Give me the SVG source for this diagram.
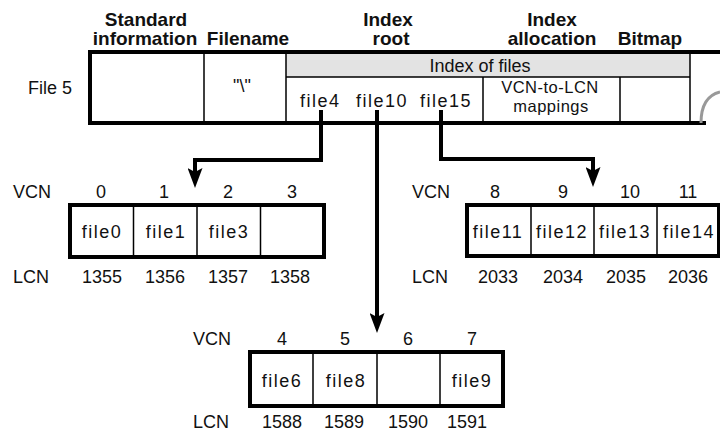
<svg xmlns="http://www.w3.org/2000/svg" width="720" height="433" viewBox="0 0 720 433">
<defs>
<style>
text{font-family:"Liberation Sans",Arial,Helvetica,sans-serif;font-size:18px;fill:#111}
.h{font-weight:bold;font-size:19px;text-anchor:middle}
.c{text-anchor:middle}
.f{letter-spacing:1.5px}
.m{font-size:16.5px;letter-spacing:0.5px}
.thick{fill:none;stroke:#000;stroke-width:4}
.thin{fill:none;stroke:#000;stroke-width:1.5}
.conn{fill:none;stroke:#000;stroke-width:4;stroke-linejoin:miter}
.band{fill:#e3e3e3}
</style>
<marker id="ah" viewBox="0 0 20 15" refX="4" refY="7.5" markerWidth="20" markerHeight="15" markerUnits="userSpaceOnUse" orient="auto">
<path d="M0,0 L20,7.5 L0,15 L4,7.5 z" fill="#000"/>
</marker>
</defs>
<rect width="720" height="433" fill="#fff"/>

<g id="file5-record">
<text class="h" x="146" y="26">Standard</text>
<text class="h" x="145" y="45">information</text>
<text class="h" x="248" y="45">Filename</text>
<text class="h" x="388" y="26">Index</text>
<text class="h" x="391" y="45">root</text>
<text class="h" x="552" y="26">Index</text>
<text class="h" x="552" y="45">allocation</text>
<text class="h" x="650" y="45">Bitmap</text>
<text class="c" x="50" y="94">File 5</text>
<rect class="band" x="286" y="52" width="404" height="25"/>
<path class="thin" d="M204,52V123M286,52V123M690,52V123M286,77H690M483,77V123M620,77V123"/>
<path class="thick" d="M720,52H90V123H706"/>
<path d="M701,123C701,105 708,95 720,92" fill="none" stroke="#999" stroke-width="3"/>
<text class="c" x="242" y="92">"\"</text>
<text class="c" x="480" y="72">Index of files</text>
<text class="f" x="300" y="107">file4</text>
<text class="f" x="356" y="107">file10</text>
<text class="f" x="420" y="107">file15</text>
<text class="c m" x="550" y="93">VCN-to-LCN</text>
<text class="c m" x="551" y="112">mappings</text>
</g>

<g id="run-vcn0-3">
<text x="13" y="198">VCN</text>
<text class="c" x="101" y="198">0</text>
<text class="c" x="164" y="198">1</text>
<text class="c" x="228" y="198">2</text>
<text class="c" x="292" y="198">3</text>
<rect class="thick" x="70" y="205" width="254" height="52"/>
<path class="thin" d="M133.5,205V257M197,205V257M260.5,205V257"/>
<text class="c f" x="102" y="238">file0</text>
<text class="c f" x="166" y="238">file1</text>
<text class="c f" x="229" y="238">file3</text>
<text x="13" y="283">LCN</text>
<text class="c" x="102" y="283">1355</text>
<text class="c" x="165" y="283">1356</text>
<text class="c" x="228" y="283">1357</text>
<text class="c" x="290" y="283">1358</text>
</g>

<g id="run-vcn8-11">
<text x="412" y="198">VCN</text>
<text class="c" x="495" y="198">8</text>
<text class="c" x="563" y="198">9</text>
<text class="c" x="630" y="198">10</text>
<text class="c" x="688" y="198">11</text>
<rect class="thick" x="467" y="205" width="252" height="51"/>
<path class="thin" d="M531,205V256M594,205V256M657,205V256"/>
<text class="c f" x="498" y="238">file11</text>
<text class="c f" x="562" y="238">file12</text>
<text class="c f" x="625" y="238">file13</text>
<text class="c f" x="689" y="238">file14</text>
<text x="412" y="283">LCN</text>
<text class="c" x="498" y="283">2033</text>
<text class="c" x="563" y="283">2034</text>
<text class="c" x="626" y="283">2035</text>
<text class="c" x="688" y="283">2036</text>
</g>

<g id="run-vcn4-7">
<text x="193" y="345">VCN</text>
<text class="c" x="282" y="345">4</text>
<text class="c" x="345" y="345">5</text>
<text class="c" x="408" y="345">6</text>
<text class="c" x="472" y="345">7</text>
<rect class="thick" x="250" y="352" width="253" height="54"/>
<path class="thin" d="M313,352V406M377,352V406M440,352V406"/>
<text class="c f" x="282" y="387">file6</text>
<text class="c f" x="346" y="387">file8</text>
<text class="c f" x="472" y="387">file9</text>
<text x="193" y="428">LCN</text>
<text class="c" x="282" y="428">1588</text>
<text class="c" x="344" y="428">1589</text>
<text class="c" x="408" y="428">1590</text>
<text class="c" x="467" y="428">1591</text>
</g>

<g id="connectors">
<path class="conn" d="M321,110V160H195V172" marker-end="url(#ah)"/>
<path class="conn" d="M377,110V317" marker-end="url(#ah)"/>
<path class="conn" d="M441,110V159H593V171" marker-end="url(#ah)"/>
</g>
</svg>
